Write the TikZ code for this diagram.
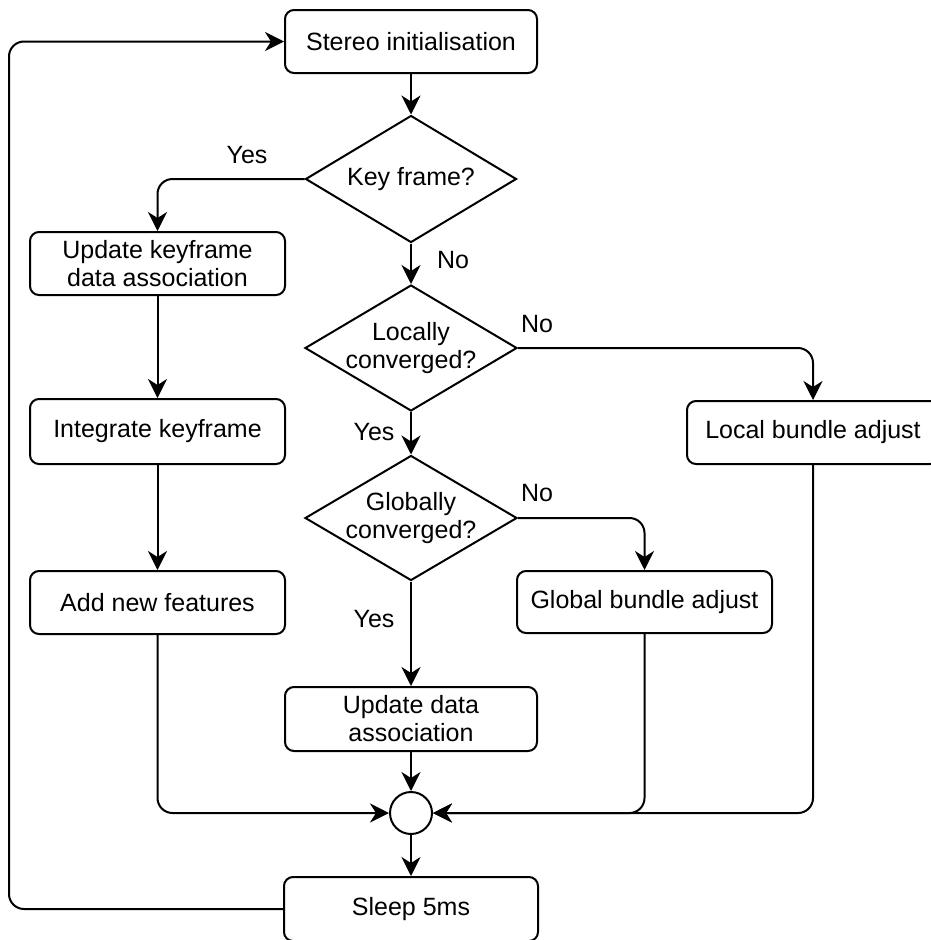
\documentclass[tikz,border=0pt]{standalone}
\usepackage{fontspec}
\setmainfont{Liberation Sans}
\usetikzlibrary{shapes.geometric,arrows.meta}
\begin{document}
\begin{tikzpicture}[x=1pt,y=-1pt,
  font=\fontsize{25}{28}\selectfont,
  box/.style={draw,line width=2pt,rounded corners=9pt,align=center,inner sep=0pt,fill=white},
  dia/.style={draw,line width=2pt,diamond,inner sep=0pt,fill=white},
  txt/.style={align=center,inner sep=0pt},
  conn/.style={line width=2pt,rounded corners=15pt},
  arr/.style={conn,-{Stealth[length=19pt,width=19pt,inset=6pt]}},
  lbl/.style={inner sep=0pt}]
\useasboundingbox (0,0) rectangle (931,940);
\clip (0,0) rectangle (931,940);

% boxes
\node[box,minimum width=252pt,minimum height=63pt] (init) at (411,41.5) {Stereo initialisation};
\node[box,minimum width=255pt,minimum height=63pt] (ukf) at (157.5,263.5) {Update keyframe\\data association};
\node[box,minimum width=255pt,minimum height=65pt] (ikf) at (157.5,431.5) {Integrate keyframe};
\node[box,minimum width=255pt,minimum height=63pt] (anf) at (157.5,602.5) {Add new features};
\node[box,minimum width=252pt,minimum height=63pt] (lba) at (813,432.5) {Local bundle adjust};
\node[box,minimum width=255pt,minimum height=62pt] (gba) at (644.5,602) {Global bundle adjust};
\node[box,minimum width=252pt,minimum height=64pt] (uda) at (411,719) {Update data\\association};
\node[box,minimum width=254pt,minimum height=64pt] (sleep) at (411,909) {Sleep 5ms};

% diamonds
\node[dia,minimum width=211pt,minimum height=127pt] (key) at (411,179) {};
\node[txt] (keyt) at (key) {Key frame?};
\node[dia,minimum width=212pt,minimum height=126pt] (loc) at (411,348) {};
\node[txt] (loct) at (loc) {Locally\\converged?};
\node[dia,minimum width=212pt,minimum height=125pt] (glob) at (411,518) {};
\node[txt] (globt) at (glob) {Globally\\converged?};

% junction
\node[draw,line width=2pt,circle,minimum size=42pt,inner sep=0pt,fill=white] (circ) at (411,813) {};

% labels
\node[lbl] (yes1) at (247,155) {Yes};
\node[lbl] (no1) at (453,260) {No};
\node[lbl] (no2) at (537,324) {No};
\node[lbl] (yes2) at (374,432) {Yes};
\node[lbl] (no3) at (537,493) {No};
\node[lbl] (yes3) at (374,619) {Yes};

% connectors
\draw[arr] (init.south) -- (key.north);
\draw[arr] (key.west) -| (ukf.north);
\draw[arr] (key.south) -- (loc.north);
\draw[arr] (loc.east) -| (lba.north);
\draw[arr] (loc.south) -- (glob.north);
\draw[arr] (glob.east) -| (gba.north);
\draw[arr] (glob.south) -- (uda.north);
\draw[arr] (ukf.south) -- (ikf.north);
\draw[arr] (ikf.south) -- (anf.north);
\draw[arr] (anf.south) |- (circ.west);
\draw[arr] (lba.south) |- (circ.east);
\draw[arr] (gba.south) |- (circ.east);
\draw[arr] (uda.south) -- (circ.north);
\draw[arr] (circ.south) -- (sleep.north);
\coordinate (loopc) at (9,909);
\draw[arr] (sleep.west) -- (loopc) |- (init.west);
\end{tikzpicture}
\end{document}
